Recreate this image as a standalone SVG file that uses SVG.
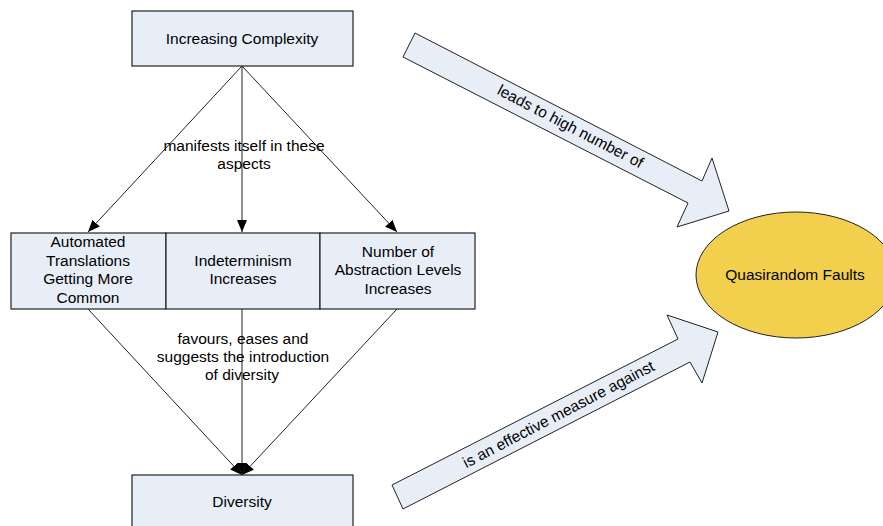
<svg xmlns="http://www.w3.org/2000/svg" width="883" height="526" viewBox="0 0 883 526">
<style>
.box{fill:#E8EEF8;stroke:#222;stroke-width:1.2}
.t{font-family:"Liberation Sans",Arial,sans-serif;font-size:15.5px;fill:#000;text-anchor:middle}
.ln{stroke:#222;stroke-width:1;fill:none}
.blk{fill:#E8EEF8;stroke:#222;stroke-width:1}
</style>
<defs>
<marker id="ah" viewBox="0 0 12 10" refX="12" refY="5" markerWidth="12" markerHeight="10" markerUnits="userSpaceOnUse" orient="auto">
<path d="M0,0 L12,5 L0,10 Z" fill="#000"/>
</marker>
</defs>
<rect width="883" height="526" fill="#fff"/>
<g id="connectors">
<line class="ln" x1="242" y1="66" x2="88" y2="232" marker-end="url(#ah)"/>
<line class="ln" x1="242" y1="66" x2="242" y2="232" marker-end="url(#ah)"/>
<line class="ln" x1="242" y1="66" x2="397" y2="232" marker-end="url(#ah)"/>
<line class="ln" x1="88" y1="309" x2="242" y2="475" marker-end="url(#ah)"/>
<line class="ln" x1="242" y1="309" x2="242" y2="475" marker-end="url(#ah)"/>
<line class="ln" x1="397" y1="309" x2="242" y2="475" marker-end="url(#ah)"/>
<text class="t" x="244" y="151">manifests itself in these</text>
<text class="t" x="244" y="169">aspects</text>
<text class="t" x="243" y="344">favours, eases and</text>
<text class="t" x="243" y="362">suggests the introduction</text>
<text class="t" x="242" y="380">of diversity</text>
<g id="arrow-leads">
<polygon class="blk" points="415,33 702,181 712,158 729,211 677,227 688,203 403,57"/>
<text class="t" transform="translate(568,131) rotate(27.5)">leads to high number of</text>
</g>
<g id="arrow-measure">
<polygon class="blk" points="403,509 690,362 702,383 718,332 667,315 678,339 392,485"/>
<text class="t" transform="translate(561,419) rotate(-27.5)">is an effective measure against</text>
</g>
</g>
<g id="node-complexity">
<rect class="box" x="132" y="11" width="221" height="55"/>
<text class="t" x="242" y="44">Increasing Complexity</text>
</g>
<g id="node-automated">
<rect class="box" x="11" y="233" width="155" height="76"/>
<text class="t" x="88" y="247">Automated</text>
<text class="t" x="88" y="266">Translations</text>
<text class="t" x="88" y="284">Getting More</text>
<text class="t" x="88" y="303">Common</text>
</g>
<g id="node-indeterminism">
<rect class="box" x="166" y="233" width="154" height="76"/>
<text class="t" x="243" y="266">Indeterminism</text>
<text class="t" x="243" y="284">Increases</text>
</g>
<g id="node-abstraction">
<rect class="box" x="320" y="233" width="155" height="76"/>
<text class="t" x="398" y="257">Number of</text>
<text class="t" x="398" y="275">Abstraction Levels</text>
<text class="t" x="398" y="294">Increases</text>
</g>
<g id="node-faults">
<ellipse cx="796" cy="275" rx="100" ry="63" fill="#F2CF4C" stroke="#222" stroke-width="1"/>
<text class="t" x="795" y="280">Quasirandom Faults</text>
</g>
<g id="node-diversity">
<rect class="box" x="132" y="475" width="221" height="60"/>
<text class="t" x="242" y="507">Diversity</text>
</g>
</svg>
